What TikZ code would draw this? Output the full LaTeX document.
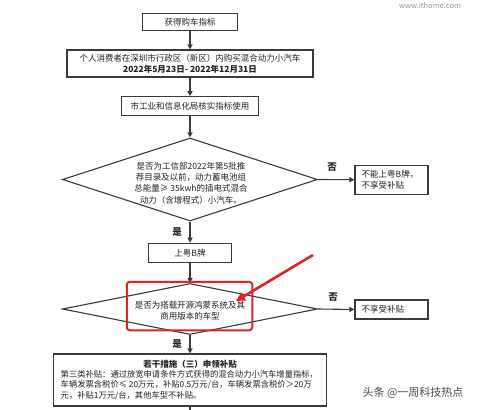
\documentclass[tikz,border=0pt]{standalone}
\usepackage{fontspec}
\setmainfont{Noto Sans CJK SC}
\usetikzlibrary{arrows.meta,shapes.geometric}
\definecolor{linec}{HTML}{3A3A3A}
\definecolor{textc}{HTML}{222222}
\definecolor{hl}{HTML}{E02424}
\begin{document}
\begin{tikzpicture}[x=1pt,y=-1pt,
  box/.style={draw=linec, line width=1.1pt, fill=white, inner sep=0pt, text=textc,
    font=\fontsize{8.5}{11}\selectfont},
  dia/.style={draw=linec, line width=1.1pt, diamond, inner sep=0pt, fill=white},
  txt/.style={text=textc, inner sep=0pt, font=\fontsize{8.5}{11.3}\selectfont},
  lbl/.style={text=textc, inner sep=0pt, font=\bfseries\fontsize{9.5}{11}\selectfont},
  conn/.style={draw=linec, line width=1.1pt, -{Triangle[length=5pt,width=5pt]}},
  plain/.style={draw=linec, line width=1.1pt},
  redarrow/.style={draw=hl, line width=2.6pt, -{Triangle[length=9pt,width=9pt]}}
]
\fill[white] (0,0) rectangle (480,410);
\useasboundingbox (0,0) rectangle (480,410);

\node[text=black!40, inner sep=0pt, font=\fontsize{7.5}{9}\selectfont] (web) at (430,6) {www.ithome.com};

\node[box, minimum width=95pt, minimum height=17.5pt] (b1) at (190,22) {获得购车指标};
\node[box, minimum width=246pt, minimum height=27pt, align=center] (b2) at (190,63.5)
  {个人消费者在深圳市行政区（新区）内购买混合动力小汽车\\\textbf{2022年5月23日- 2022年12月31日}};
\node[box, minimum width=137pt, minimum height=18.5pt] (b3) at (190,106) {市工业和信息化局核实指标使用};

\node[dia, minimum width=255pt, minimum height=83pt] (d1) at (190,179.5) {};
\node[txt, align=center] (d1t) at (191,183)
  {是否为工信部2022年第5批推\\荐目录及以前，动力蓄电池组\\总能量≥ 35kwh的插电式混合\\动力（含增程式）小汽车。};

\node[box, minimum width=73pt, minimum height=29pt] (n1) at (391.5,179.7) {};
\node[txt, align=left, anchor=west] (n1t) at (361.5,179.5) {不能上粤B牌，\\不享受补贴};

\node[box, minimum width=83.5pt, minimum height=19.5pt] (b4) at (190,253) {上粤B牌};

\node[dia, minimum width=255pt, minimum height=51pt] (d2) at (190,309) {};
\node[txt, align=center] (d2t) at (190,311) {是否为搭载开源鸿蒙系统及其\\商用版本的车型};

\node[box, minimum width=73pt, minimum height=19pt] (n2) at (391.5,309.5) {};
\node[txt, anchor=west] (n2t) at (361.5,309.5) {不享受补贴};

\node[box, minimum width=273pt, minimum height=52pt] (b5) at (190,380) {};
\node[txt, font=\bfseries\fontsize{8.5}{11}\selectfont] (b5h) at (190,364) {若干措施（三）申领补贴};
\node[txt, align=left, anchor=north west, font=\fontsize{8.3}{10.6}\selectfont] (b5t) at (60.5,370)
  {第三类补贴：通过放宽申请条件方式获得的混合动力小汽车增量指标，\\车辆发票含税价≤ 20万元，补贴0.5万元/台，车辆发票含税价＞20万\\元，补贴1万元/台，其他车型不补贴。};

\node[lbl] (no1) at (332,167.5) {否};
\node[lbl] (yes1) at (177,232) {是};
\node[lbl] (no2) at (333,297.5) {否};
\node[lbl] (yes2) at (177,344) {是};

\draw[conn] (b1) -- (b2);
\draw[conn] (b2) -- (b3);
\draw[conn] (b3) -- (d1);
\draw[conn] (d1.east) -- (n1.west);
\draw[conn] (d1) -- (b4);
\draw[conn] (b4) -- (d2);
\draw[conn] (d2.east) -- (n2.west);
\draw[conn] (d2) -- (b5);
\coordinate (bot) at (190,412);
\draw[plain] (b5) -- (bot);

\node[draw=hl, line width=2pt, rounded corners=3pt, minimum width=125.5pt, minimum height=48.5pt, inner sep=0pt] (hlbox) at (189.5,306) {};
\coordinate (ra) at (313,255);
\coordinate (rb) at (236,301);
\draw[redarrow] (ra) -- (rb);

\node[text=black!70, inner sep=0pt, font=\fontsize{11}{13}\selectfont] (wm) at (413,393) {头条 @一周科技热点};
\end{tikzpicture}
\end{document}
